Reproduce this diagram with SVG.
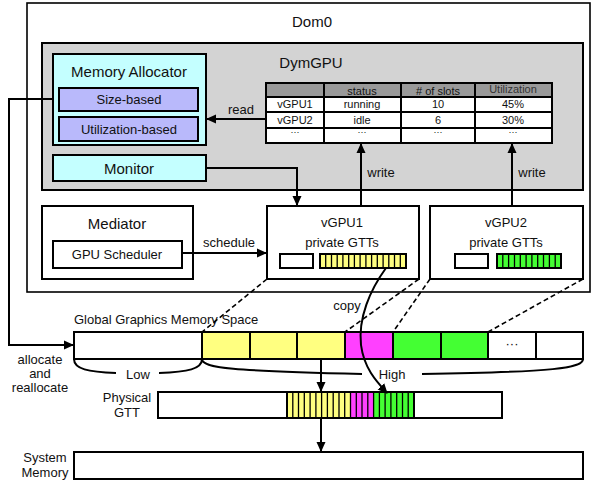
<svg xmlns="http://www.w3.org/2000/svg" width="592" height="481" viewBox="0 0 592 481">
<style>
text{font-family:"Liberation Sans",Arial,sans-serif;fill:#111;text-anchor:middle;dominant-baseline:central}
.b{fill:none;stroke:#000;stroke-width:2}
.ln{fill:none;stroke:#000;stroke-width:2}
.d{fill:none;stroke:#000;stroke-width:1.6;stroke-dasharray:5,3}
.s{stroke:#000;stroke-width:1.3}
.f15{font-size:15px}.f13{font-size:13px}.f11{font-size:11px}.f9{font-size:9px}
</style>
<defs>
<marker id="ah" markerWidth="10" markerHeight="10" refX="9" refY="5" orient="auto" markerUnits="userSpaceOnUse"><path d="M0,0.5 L10,5 L0,9.5 Z" fill="#000"/></marker>
</defs>
<rect width="592" height="481" fill="#fff"/>
<g id="dom0"><rect x="27" y="3" width="563" height="289" fill="#fff" stroke="#000" stroke-width="1.6"/><text x="312" y="21" class="f15">Dom0</text></g>
<g id="dymgpu"><rect x="42" y="43" width="541" height="147" fill="#d3d3d3" stroke="#000" stroke-width="2"/><text x="311" y="62" class="f15">DymGPU</text></g>
<g id="memalloc"><rect x="53" y="54" width="153" height="91" fill="#c4ffff" stroke="#000" stroke-width="2"/><text x="129" y="71" class="f15">Memory Allocator</text>
<rect x="59" y="88" width="139" height="23" fill="#b9b9fb" stroke="#000" stroke-width="2"/><text x="129" y="99.5" class="f13">Size-based</text>
<rect x="59" y="117" width="139" height="24" fill="#b9b9fb" stroke="#000" stroke-width="2"/><text x="129" y="129" class="f13">Utilization-based</text></g>
<g id="monitor"><rect x="53" y="155" width="153" height="26" fill="#c4ffff" stroke="#000" stroke-width="2"/><text x="129" y="168" class="f15">Monitor</text></g>
<g id="table">
<rect x="266" y="83" width="286" height="14" fill="#999"/>
<rect x="266" y="97" width="286" height="46" fill="#fff"/>
<path d="M266,83H552V143H266Z M266,97H552 M266,112H552 M266,128H552 M324,83V143 M401,83V143 M475,83V143" class="b"/>
<text x="362" y="90.5" class="f11">status</text><text x="438" y="90.5" class="f11"># of slots</text><text x="513" y="89" class="f11" style="fill:#333">Utilization</text>
<text x="295" y="104" class="f11">vGPU1</text><text x="362" y="104" class="f11">running</text><text x="438" y="104" class="f11">10</text><text x="513" y="104" class="f11">45%</text>
<text x="295" y="119.5" class="f11">vGPU2</text><text x="362" y="119.5" class="f11">idle</text><text x="438" y="119.5" class="f11">6</text><text x="513" y="119.5" class="f11">30%</text>
<text x="295" y="132" class="f9">···</text><text x="362" y="132" class="f9">···</text><text x="438" y="132" class="f9">···</text><text x="513" y="132" class="f9">···</text>
</g>
<g id="mediator"><rect x="42" y="206" width="151" height="73" fill="#fff" stroke="#000" stroke-width="2"/><text x="117" y="223" class="f15">Mediator</text>
<rect x="53" y="241" width="129" height="27" fill="#fff" stroke="#000" stroke-width="2"/><text x="117" y="254" class="f13">GPU Scheduler</text></g>
<g id="vgpu1"><rect x="267" y="206" width="152" height="73" fill="#fff" stroke="#000" stroke-width="2"/><text x="342" y="222" class="f13">vGPU1</text><text x="342" y="242" class="f13">private GTTs</text>
<rect x="280" y="254" width="33" height="14" fill="#fff" stroke="#000" stroke-width="2"/>
<rect x="320" y="254" width="86" height="14" fill="#ffff80"/>
<path d="M325.7,254V268M331.5,254V268M337.2,254V268M342.9,254V268M348.7,254V268M354.4,254V268M360.1,254V268M365.9,254V268M371.6,254V268M377.3,254V268M383.1,254V268M388.8,254V268M394.5,254V268M400.3,254V268" class="s"/>
<rect x="320" y="254" width="86" height="14" fill="none" stroke="#000" stroke-width="2"/></g>
<g id="vgpu2"><rect x="430" y="206" width="153" height="73" fill="#fff" stroke="#000" stroke-width="2"/><text x="506" y="222" class="f13">vGPU2</text><text x="506" y="242" class="f13">private GTTs</text>
<rect x="455" y="254" width="33" height="14" fill="#fff" stroke="#000" stroke-width="2"/>
<rect x="497" y="254" width="64" height="14" fill="#44ff33"/>
<path d="M502.8,254V268M508.6,254V268M514.5,254V268M520.3,254V268M526.1,254V268M531.9,254V268M537.7,254V268M543.5,254V268M549.4,254V268M555.2,254V268" class="s"/>
<rect x="497" y="254" width="64" height="14" fill="none" stroke="#000" stroke-width="2"/></g>
<g id="global">
<text x="74" y="319" class="f13" style="text-anchor:start">Global Graphics Memory Space</text>
<rect x="74" y="332" width="509" height="27" fill="#fff"/>
<rect x="202" y="332" width="143" height="27" fill="#ffff80"/>
<rect x="345" y="332" width="48" height="27" fill="#ff40ff"/>
<rect x="393" y="332" width="95" height="27" fill="#44ff33"/>
<path d="M74,332H583V359H74Z M202,332V359 M250,332V359 M297,332V359 M345,332V359 M393,332V359 M441,332V359 M488,332V359 M536,332V359" class="b"/>
<text x="512" y="343" class="f13">···</text>
<path d="M74,359 C74,369 88,372 116,373 M159,373 C188,372 202,369 202,359 M202,359 C202,368 232,371 362,374 M422,374 C556,372 583,368 583,359" class="ln"/>
<text x="138" y="374" class="f13">Low</text><text x="392" y="374" class="f13">High</text>
</g>
<g id="physgtt">
<text x="127" y="397" class="f13">Physical</text><text x="127" y="412" class="f13">GTT</text>
<rect x="158" y="392" width="344" height="26" fill="#fff"/>
<rect x="287" y="392" width="63.5" height="26" fill="#ffff80"/>
<rect x="350.5" y="392" width="23.1" height="26" fill="#ff40ff"/>
<rect x="373.6" y="392" width="40.4" height="26" fill="#44ff33"/>
<path d="M292.8,392V418M298.5,392V418M304.3,392V418M310.1,392V418M315.9,392V418M321.6,392V418M327.4,392V418M333.2,392V418M339,392V418M344.7,392V418M350.5,392V418M356.3,392V418M362,392V418M367.8,392V418M373.6,392V418M379.4,392V418M385.1,392V418M390.9,392V418M396.7,392V418M402.5,392V418M408.2,392V418" class="s"/>
<path d="M158,392H502V418H158Z M287,392V418 M414,392V418" class="b"/>
</g>
<g id="sysmem">
<text x="45" y="457" class="f13">System</text><text x="45" y="472" class="f13">Memory</text>
<rect x="74" y="452" width="509" height="27" fill="#fff" stroke="#000" stroke-width="2"/>
</g>
<g id="connectors">
<path d="M266,119 H207" class="ln" marker-end="url(#ah)"/>
<text x="241" y="109" class="f13">read</text>
<path d="M206,168 H297 V205" class="ln" marker-end="url(#ah)"/>
<path d="M361,206 V144" class="ln" marker-end="url(#ah)"/>
<path d="M512,206 V144" class="ln" marker-end="url(#ah)"/>
<text x="381" y="172" class="f13">write</text><text x="532" y="172" class="f13">write</text>
<path d="M182,253 H266" class="ln" marker-end="url(#ah)"/>
<text x="229" y="242" class="f13">schedule</text>
<path d="M53,99 H9 V345 H73" class="ln" marker-end="url(#ah)"/>
<text x="40" y="359" class="f13">allocate</text><text x="40" y="373" class="f13">and</text><text x="40" y="387" class="f13">reallocate</text>
<path d="M267,279 L202,332 M419,279 L345,332 M430,279 L393,332 M583,279 L488,332" class="d"/>
<path d="M386,268 C370,290 358,318 361,345 C364,368 376,381 387,393" class="ln" marker-end="url(#ah)"/>
<text x="347" y="305" class="f13">copy</text>
<path d="M321,359 V391" class="ln" marker-end="url(#ah)"/>
<path d="M321,418 V451" class="ln" marker-end="url(#ah)"/>
</g>
</svg>
